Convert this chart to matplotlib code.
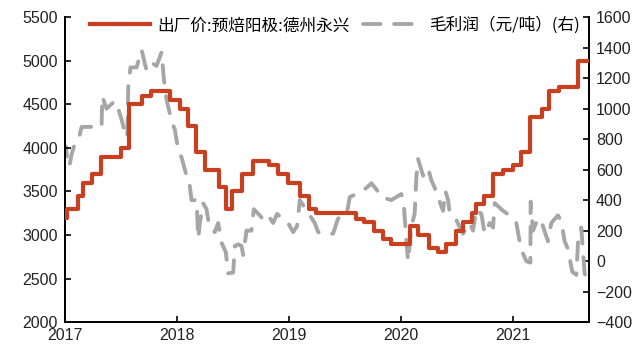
import matplotlib
matplotlib.use("Agg")
import matplotlib.pyplot as plt
import numpy as np

plt.rcParams['font.family'] = ['Liberation Sans', 'Noto Sans CJK SC', 'DejaVu Sans']

# Price (left axis): step change dates (decimal years) and levels
price_dates = [2017.000, 2017.015, 2017.12, 2017.16, 2017.24, 2017.32, 2017.50, 2017.57,
               2017.69, 2017.77, 2017.94, 2018.03, 2018.10, 2018.17, 2018.25, 2018.37,
               2018.44, 2018.49, 2018.58, 2018.68, 2018.82, 2018.90, 2018.99, 2019.10,
               2019.18, 2019.24, 2019.60, 2019.67, 2019.76, 2019.84, 2019.91, 2020.08,
               2020.15, 2020.25, 2020.33, 2020.40, 2020.49, 2020.55, 2020.63, 2020.67,
               2020.74, 2020.82, 2020.91, 2021.00, 2021.07, 2021.15, 2021.26, 2021.32,
               2021.41, 2021.58, 2021.675]
price_values = [3200, 3300, 3450, 3600, 3700, 3900, 4000, 4500,
                4600, 4650, 4550, 4450, 4250, 3950, 3750, 3550,
                3300, 3500, 3700, 3850, 3800, 3700, 3600, 3450,
                3300, 3250, 3180, 3150, 3050, 2950, 2900, 3100,
                3000, 2850, 2800, 2900, 3050, 3150, 3250, 3350,
                3450, 3700, 3750, 3800, 3950, 4350, 4450, 4650,
                4700, 5000, 5000]

# Gross margin (right axis)
margin_dates = [2017.000, 2017.009, 2017.024, 2017.039, 2017.059, 2017.089, 2017.119, 2017.149,
                2017.193, 2017.282, 2017.327, 2017.333, 2017.371, 2017.446, 2017.475, 2017.505,
                2017.535, 2017.556, 2017.565, 2017.585, 2017.639, 2017.684, 2017.728, 2017.773,
                2017.817, 2017.862, 2017.883, 2017.906, 2017.951, 2017.981, 2018.010, 2018.040,
                2018.085, 2018.108, 2018.129, 2018.174, 2018.189, 2018.204, 2018.233, 2018.263,
                2018.287, 2018.337, 2018.367, 2018.397, 2018.435, 2018.456, 2018.501, 2018.516,
                2018.545, 2018.575, 2018.590, 2018.620, 2018.664, 2018.685, 2018.738, 2018.783,
                2018.822, 2018.857, 2018.893, 2018.947, 2018.991, 2019.036, 2019.071, 2019.095,
                2019.140, 2019.184, 2019.229, 2019.259, 2019.318, 2019.392, 2019.437, 2019.511,
                2019.541, 2019.630, 2019.689, 2019.734, 2019.779, 2019.823, 2019.912, 2020.001,
                2020.022, 2020.046, 2020.061, 2020.091, 2020.120, 2020.135, 2020.150, 2020.195,
                2020.239, 2020.269, 2020.299, 2020.328, 2020.373, 2020.394, 2020.418, 2020.432,
                2020.492, 2020.522, 2020.551, 2020.611, 2020.640, 2020.670, 2020.715, 2020.744,
                2020.789, 2020.819, 2020.834, 2020.908, 2020.967, 2021.027, 2021.056, 2021.086,
                2021.116, 2021.152, 2021.155, 2021.175, 2021.220, 2021.250, 2021.309, 2021.339,
                2021.398, 2021.428, 2021.458, 2021.487, 2021.526, 2021.562, 2021.577, 2021.606,
                2021.636, 2021.675]
margin_values = [700, 750, 640, 620, 700, 770, 790, 880,
                 880, 880, 880, 1080, 1000, 1050, 1000, 930,
                 840, 810, 1150, 1270, 1270, 1385, 1250, 1300,
                 1280, 1370, 1190, 1060, 920, 860, 730, 680,
                 560, 530, 400, 400, 150, 250, 380, 340,
                 230, 190, 250, 120, 60, -80, -75, 100,
                 110, 100, 40, 200, 200, 340, 300, 260,
                 290, 250, 310, 270, 250, 190, 230, 400,
                 350, 300, 250, 190, 180, 180, 280, 300,
                 420, 450, 480, 510, 470, 420, 400, 440,
                 380, 130, 0, 230, 310, 550, 670, 560,
                 610, 530, 480, 420, 330, 460, 400, 320,
                 270, 220, 180, 250, 200, 340, 310, 180,
                 250, 220, 380, 330, 300, 250, 130, 50,
                 0, -10, 390, 200, 280, 260, 130, 250,
                 300, 260, 130, 80, -70, -90, 120, 220,
                 -80, -170]

year_ticks = [2017, 2018, 2019, 2020, 2021]
left_ticks = [2000, 2500, 3000, 3500, 4000, 4500, 5000, 5500]
right_ticks = [-400, -200, 0, 200, 400, 600, 800, 1000, 1200, 1400, 1600]

label_price = '出厂价:预焙阳极:德州永兴'
label_margin = '毛利润（元/吨）(右)'

red = '#c8401f'
gray = '#a6a6a6'

fig = plt.figure(figsize=(6.43, 3.49), dpi=100)
ax = fig.add_axes([0.101, 0.077, 0.815, 0.874])
ax2 = ax.twinx()

l1, = ax.step(price_dates, price_values, where='post', color=red, lw=3.0, label=label_price, zorder=3)
l2, = ax2.plot(margin_dates, margin_values, color=gray, lw=2.8, dashes=(4.5, 3.5),
               dash_capstyle='round', label=label_margin)
ax.set_zorder(ax2.get_zorder() + 1)
ax.patch.set_visible(False)

ax.set_xlim(2017.0, 2021.675)
ax.set_ylim(2000, 5500)
ax2.set_ylim(-400, 1600)
ax.set_xticks(year_ticks)
ax.set_xticklabels([str(y) for y in year_ticks])
ax.set_yticks(left_ticks)
ax2.set_yticks(right_ticks)

for a in (ax, ax2):
    a.spines['top'].set_visible(False)
    for s in ('left', 'right', 'bottom'):
        a.spines[s].set_linewidth(1.3)
        a.spines[s].set_color('black')
    a.tick_params(direction='in', length=4, width=1.2, labelsize=11.5, colors='black', labelcolor='#222222')
ax.tick_params(axis='x', pad=4)
ax.tick_params(axis='y', pad=5)
ax2.tick_params(axis='y', pad=5)

leg = ax.legend(handles=[l1, l2], loc='upper left', bbox_to_anchor=(0.02, 1.05), ncol=2,
                frameon=False, handlelength=3.6, columnspacing=0.8,
                handletextpad=0.4, prop={'family': ['Noto Sans CJK SC', 'DejaVu Sans'], 'size': 12})

fig.savefig('out.png', dpi=100)
